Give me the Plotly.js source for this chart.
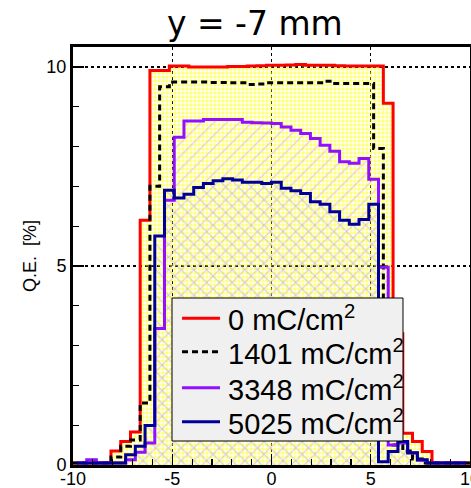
<!DOCTYPE html>
<html><head><meta charset="utf-8">
<script src="https://cdn.plot.ly/plotly-3.0.1.min.js"></script>
<style>html,body{margin:0;padding:0;background:#fff}</style>
</head><body>
<div id="chart" style="width:471px;height:488px"></div>
<script>
// ---- data ----
const binWidth = 0.49;             // mm
const firstEdgeA = -10.045;        // grid A (0 & 1401 mC/cm2): bins centred on multiples of 0.49
const firstEdgeB = -9.8;           // grid B (3348 & 5025 mC/cm2): bin edges on multiples of 0.49
const seriesNames = ['0 mC/cm<sup>2</sup>', '1401 mC/cm<sup>2</sup>', '3348 mC/cm<sup>2</sup>', '5025 mC/cm<sup>2</sup>'];
// Q.E. [%] per bin (grid A, 41 bins)
const qe0 = [0.05,0.05,0.05,0.05,0.35,0.59,0.83,6.15,9.91,9.91,10.02,10.02,10.0,10.0,10.0,10.0,10.01,10.01,10.02,10.03,
             10.04,10.04,10.05,10.06,10.04,10.04,10.04,10.03,10.02,10.02,10.02,10.02,9.09,3.3,0.8,0.59,0.34,0.05,0.05,0.05,0.05];
const qe1401 = [0.05,0.05,0.05,0.05,0.2,0.47,0.63,1.56,7.0,9.5,9.62,9.62,9.62,9.62,9.61,9.61,9.6,9.6,9.56,9.57,
             9.6,9.6,9.6,9.6,9.6,9.6,9.64,9.58,9.58,9.58,9.58,7.95,2.0,0.5,0.35,0.15,0.05,0.05,0.05,0.05,0.05];
// grid B, 40 bins
const qe3348 = [0.05,0.13,0.05,0.05,0.05,0.13,0.32,0.55,3.43,6.65,8.23,8.64,8.64,8.68,8.68,8.68,8.68,8.61,8.6,8.59,
             8.58,8.49,8.41,8.33,8.2,8.03,7.88,7.62,7.58,7.7,7.18,4.97,0.5,0.55,0.3,0.12,0.05,0.05,0.05,0.05];
const qe5025 = [0.05,0.05,0.05,0.05,0.05,0.26,0.47,0.99,5.75,6.9,6.71,6.8,6.97,7.07,7.14,7.19,7.16,7.1,7.1,7.07,
             7.1,6.95,6.89,6.82,6.61,6.55,6.36,6.15,6.05,6.17,6.55,0.08,0.34,0.59,0.31,0.13,0.05,0.05,0.05,0.05];
const xTicks = [-10,-5,0,5,10];
const yTicks = [0,5,10];

// ---- helpers: histogram outline (step) from bin edges ----
function hist(first, vals){
  const x = [], y = [];
  for (let i = 0; i <= vals.length; i++) {
    x.push(+(first + i*binWidth).toFixed(4));
    y.push(vals[Math.min(i, vals.length-1)]);
  }
  return {x, y};
}
const h0 = hist(firstEdgeA, qe0), h1 = hist(firstEdgeA, qe1401),
      h2 = hist(firstEdgeB, qe3348), h3 = hist(firstEdgeB, qe5025);

const clear = 'rgba(0,0,0,0)';
function fillTrace(h, pat){
  return {x:h.x, y:h.y, type:'scatter', mode:'lines', line:{shape:'hv', width:0, color:clear},
    fill:'tozeroy', fillcolor:clear, fillpattern:pat, showlegend:false, hoverinfo:'skip'};
}
const colors = ['#ff0000', '#000000', '#9010ff', '#000099'];
const dashes = ['solid', '6px,4px', 'solid', 'solid'];
function lineTrace(h, i){
  return {x:h.x, y:h.y, type:'scatter', mode:'lines', name:seriesNames[i], showlegend:false,
    line:{shape:'hv', width:3, color:colors[i], dash:dashes[i]}};
}
const data = [
  fillTrace(h0, {shape:'.', size:4, solidity:0.62, fgcolor:'#ffff00', bgcolor:clear, fillmode:'overlay'}),
  fillTrace(h2, {shape:'/', size:9, solidity:0.14, fgcolor:'#d4a0f0', bgcolor:clear, fillmode:'overlay'}),
  fillTrace(h3, {shape:'\\', size:9, solidity:0.14, fgcolor:'#a8b2dc', bgcolor:clear, fillmode:'overlay'}),
  lineTrace(h0, 0), lineTrace(h1, 1), lineTrace(h2, 2), lineTrace(h3, 3)
];

// ---- legend box (drawn as a ROOT-style TLegend) ----
const legBox = {x0:0.2494, x1:0.8312, y0:0.0574, y1:0.3995};
const legRows = [0.351, 0.271, 0.185, 0.1036];
const shapes = [{type:'rect', xref:'paper', yref:'paper', x0:legBox.x0, x1:legBox.x1, y0:legBox.y0, y1:legBox.y1,
  fillcolor:'#f0f0f0', line:{color:'#000', width:1}, layer:'above'}];
const annotations = [];
legRows.forEach((ry, i) => {
  shapes.push({type:'line', xref:'paper', yref:'paper', x0:0.2746, x1:0.3703, y0:ry, y1:ry,
    line:{color:colors[i], width:3, dash:dashes[i]}, layer:'above'});
  annotations.push({xref:'paper', yref:'paper', x:0.3854, y:ry, xanchor:'left', yanchor:'middle',
    text:seriesNames[i], showarrow:false, font:{family:'Liberation Sans, Arial, sans-serif', size:29, color:'#000'}});
});

const axisCommon = {
  showline:true, linewidth:3, linecolor:'#000', mirror:true,
  ticks:'inside', ticklen:11, tickwidth:1.2, tickcolor:'#000',
  showgrid:true, gridcolor:'#000', griddash:'dot', gridwidth:1.3,
  zeroline:false, ticklabeloverflow:'allow',
  tickfont:{family:'Liberation Sans, Arial, sans-serif', size:18, color:'#000'},
  minor:{ticks:'inside', ticklen:6, tickwidth:1.2, tickcolor:'#000', dtick:1, showgrid:false}
};
const layout = {
  width:471, height:488,
  margin:{l:73, r:1, t:47, b:23, pad:0},
  paper_bgcolor:'#fff', plot_bgcolor:'#fff',
  title:{text:'y = -7 mm', font:{family:'DejaVu Sans', size:33, color:'#000'},
         xref:'container', x:0.541, xanchor:'center', yref:'container', y:0.975, yanchor:'top'},
  xaxis:Object.assign({}, axisCommon, {range:[-10,10], tickvals:xTicks, ticktext:xTicks.map(String), ticklabelstandoff:-5}),
  yaxis:Object.assign({}, axisCommon, {range:[0,10.5], tickvals:yTicks, ticktext:yTicks.map(String),
    title:{text:'Q.E.\u00a0 [%]', font:{family:'Liberation Sans, Arial, sans-serif', size:18, color:'#000'}, standoff:6}}),
  shapes:shapes, annotations:annotations,
  showlegend:false
};
Plotly.newPlot('chart', data, layout, {staticPlot:true});
</script>
</body></html>
